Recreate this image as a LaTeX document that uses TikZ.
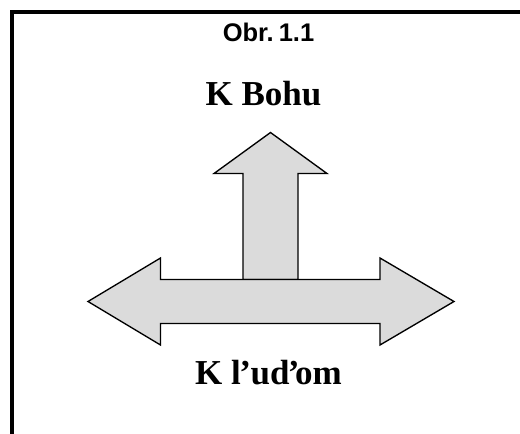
\documentclass[tikz,border=0pt]{standalone}
\usepackage{fontspec}
\setmainfont{Liberation Serif}
\newfontfamily\capfont{Liberation Sans}
\tikzset{
  framebar/.style={draw=black,line width=4.4pt,line cap=butt,line join=miter},
  arrowshape/.style={draw=black,fill=black!14,line width=1.35pt,line join=miter},
  figcaption/.style={font=\capfont\bfseries\fontsize{25.5}{28}\selectfont,inner sep=0pt,anchor=base},
  dirlabel/.style={font=\bfseries\fontsize{35}{40}\selectfont,inner sep=0pt,anchor=base}
}
\begin{document}
\begin{tikzpicture}[x=1pt,y=-1pt]
\useasboundingbox (0,0) rectangle (520,434);
\draw[framebar] (12.2,434) -- (12.2,12) -- (520,12);
\draw[arrowshape] (270.5,132.5) -- (327,173.5) -- (298,173.5) -- (298,279.5)
  -- (243,279.5) -- (243,173.5) -- (214,173.5) -- cycle;
\draw[arrowshape] (88,301.5) -- (160.5,258) -- (160.5,279.5) -- (380,279.5)
  -- (380,258) -- (454,301.5) -- (380,345) -- (380,323.5)
  -- (160.5,323.5) -- (160.5,345) -- cycle;
\node[figcaption] (caption) at (268.5,41) {Obr.\kern5pt 1.1};
\node[dirlabel] (god) at (263.5,105) {K Bohu};
\node[dirlabel] (people) at (268.5,384.5) {K l\kern-1.5pt’\kern-0.5pt ud\kern-1.5pt’\kern-4.5pt om};
\end{tikzpicture}
\end{document}
